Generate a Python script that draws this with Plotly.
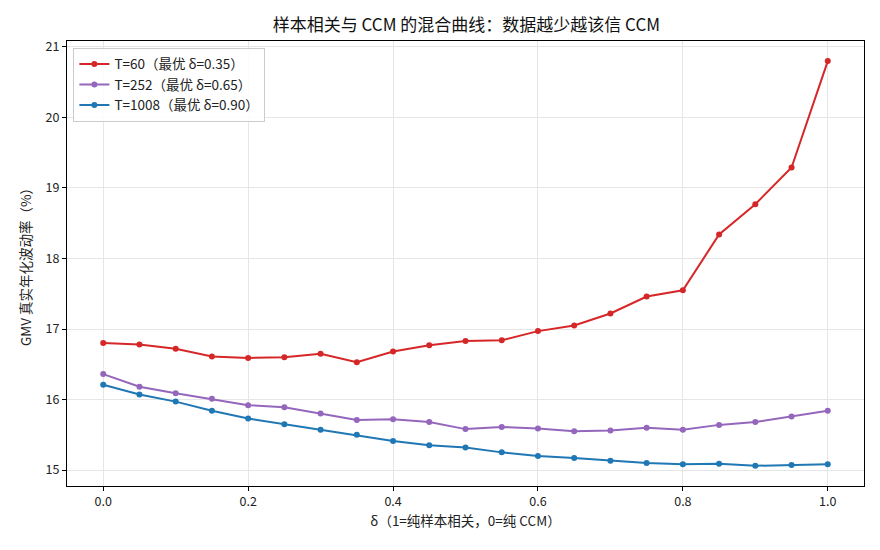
import plotly.graph_objects as go

delta = [0.0, 0.05, 0.1, 0.15, 0.2, 0.25, 0.3, 0.35, 0.4, 0.45, 0.5,
         0.55, 0.6, 0.65, 0.7, 0.75, 0.8, 0.85, 0.9, 0.95, 1.0]
t60 = [16.80, 16.78, 16.72, 16.61, 16.59, 16.60, 16.65, 16.53, 16.68, 16.77, 16.83,
       16.84, 16.97, 17.05, 17.22, 17.46, 17.55, 18.34, 18.77, 19.29, 20.80]
t252 = [16.36, 16.18, 16.09, 16.01, 15.92, 15.89, 15.80, 15.71, 15.72, 15.68, 15.58,
        15.61, 15.59, 15.55, 15.56, 15.60, 15.57, 15.64, 15.68, 15.76, 15.84]
t1008 = [16.21, 16.07, 15.97, 15.84, 15.73, 15.65, 15.57, 15.50, 15.41, 15.35, 15.32,
         15.25, 15.20, 15.17, 15.13, 15.10, 15.08, 15.09, 15.06, 15.07, 15.08]
names = ["T=60（最优 δ=0.35）", "T=252（最优 δ=0.65）", "T=1008（最优 δ=0.90）"]
colors = ["#d62728", "#9467bd", "#1f77b4"]

fig = go.Figure()
for ys, nm, c in zip([t60, t252, t1008], names, colors):
    fig.add_trace(go.Scatter(x=delta, y=ys, mode="lines+markers", name=nm,
                             line=dict(color=c, width=2),
                             marker=dict(color=c, size=6)))

font = "Noto Sans CJK SC, Noto Sans, sans-serif"
fig.update_layout(
    width=880, height=550,
    margin=dict(l=67, r=16, t=41, b=64),
    paper_bgcolor="white", plot_bgcolor="white",
    font=dict(family=font, size=12, color="#222"),
    title=dict(text="样本相关与 CCM 的混合曲线：数据越少越该信 CCM",
               x=0.53, xanchor="center", y=0.955, yanchor="middle",
               font=dict(size=17, color="#111")),
    legend=dict(x=0.008, y=0.985, xanchor="left", yanchor="top",
                bgcolor="rgba(255,255,255,0.85)", bordercolor="#cccccc", borderwidth=1,
                font=dict(size=13.5), tracegroupgap=2),
    showlegend=True,
)
fig.update_xaxes(range=[-0.05, 1.05], tickvals=[0, 0.2, 0.4, 0.6, 0.8, 1.0],
                 ticktext=["0.0", "0.2", "0.4", "0.6", "0.8", "1.0"],
                 showline=True, linecolor="black", linewidth=1, mirror=True,
                 ticks="outside", ticklen=4, tickcolor="black",
                 showgrid=True, gridcolor="#e6e6e6", zeroline=False,
                 title=dict(text="δ（1=纯样本相关，0=纯 CCM）", font=dict(size=13.5), standoff=6),
                 tickfont=dict(size=12.5))
fig.update_yaxes(range=[14.773, 21.085], tickvals=[15, 16, 17, 18, 19, 20, 21],
                 showline=True, linecolor="black", linewidth=1, mirror=True,
                 ticks="outside", ticklen=4, tickcolor="black",
                 showgrid=True, gridcolor="#e6e6e6", zeroline=False,
                 title=dict(text="GMV 真实年化波动率（%）", font=dict(size=13.5), standoff=10),
                 tickfont=dict(size=12.5))
fig.write_html("out.html")
